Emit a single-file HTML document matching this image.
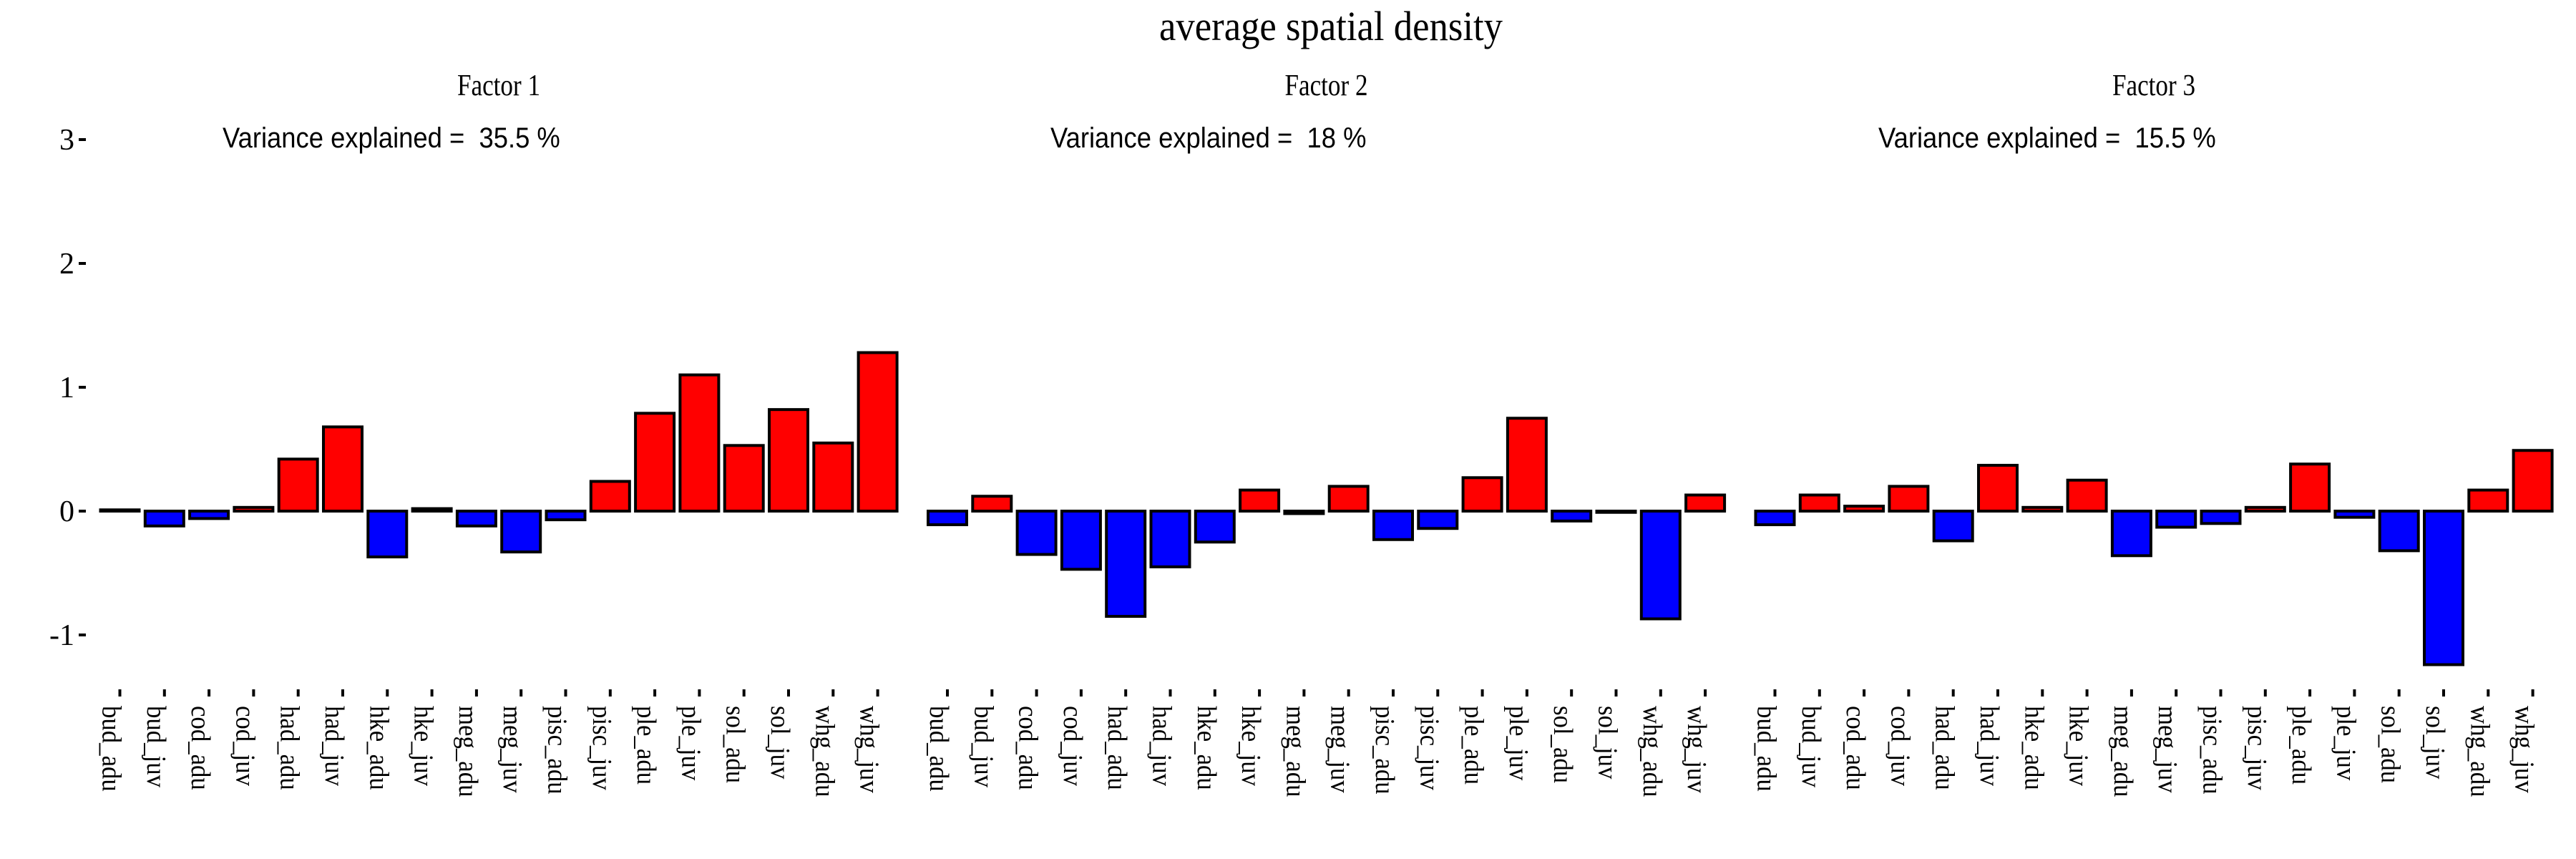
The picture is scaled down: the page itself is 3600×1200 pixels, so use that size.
<!DOCTYPE html>
<html><head><meta charset="utf-8"><style>
html,body{margin:0;padding:0;background:#fff;}
svg{display:block;}
text{white-space:pre;}
</style></head><body>
<svg id="chart" width="3600" height="1200" viewBox="0 0 3600 1200" xmlns="http://www.w3.org/2000/svg">
<text x="1860" y="56" font-family="Liberation Serif, serif" font-size="58" text-anchor="middle" textLength="480" lengthAdjust="spacingAndGlyphs">average spatial density</text>
<g id="panels"></g>
</svg>
<script>
const categories = ["bud_adu","bud_juv","cod_adu","cod_juv","had_adu","had_juv","hke_adu","hke_juv","meg_adu","meg_juv","pisc_adu","pisc_juv","ple_adu","ple_juv","sol_adu","sol_juv","whg_adu","whg_juv"];
const factor1 = [0.01,-0.12,-0.06,0.03,0.42,0.68,-0.37,0.02,-0.12,-0.33,-0.07,0.24,0.79,1.10,0.53,0.82,0.55,1.28];
const factor2 = [-0.11,0.12,-0.35,-0.47,-0.85,-0.45,-0.25,0.17,-0.02,0.20,-0.23,-0.14,0.27,0.75,-0.08,-0.01,-0.87,0.13];
const factor3 = [-0.11,0.13,0.04,0.20,-0.24,0.37,0.03,0.25,-0.36,-0.13,-0.10,0.03,0.38,-0.05,-0.32,-1.24,0.17,0.49];
const panelTitles = ["Factor 1","Factor 2","Factor 3"];
const varianceLabels = ["Variance explained =  35.5 %","Variance explained =  18 %","Variance explained =  15.5 %"];
const yTicks = [-1,0,1,2,3];

const NS = "http://www.w3.org/2000/svg";
const root = document.getElementById('panels');
const zeroY = 714, unit = 173;
function yScale(v){ return zeroY - v*unit; }
const panelOffset = 1156.5, firstTick = 167.5, step = 62.3, barW = 54;
function xScale(p,i){ return firstTick + p*panelOffset + i*step; }
function mk(tag, attrs, parent){ const e=document.createElementNS(NS,tag); for(const k in attrs) e.setAttribute(k,attrs[k]); parent.appendChild(e); return e; }

const yAxis = mk('g',{},root);


yTicks.forEach(t=>{
  const y=yScale(t);
  const tk=mk('rect',{x:110,y:y-2,width:10,height:4,fill:'#000'},yAxis);
  
  
  const lb=mk('text',{x:104,y:y+14,'font-family':'Liberation Serif, serif','font-size':42,'text-anchor':'end'},yAxis);
  
  
  lb.textContent=String(t);
});

const series=[factor1,factor2,factor3];
series.forEach((vals,p)=>{
  const g=mk('g',{},root);
  
  
  const cx = 697 + p*1156.5;
  const ft=mk('text',{x:cx,y:133,'font-family':'Liberation Serif, serif','font-size':42,'text-anchor':'middle',textLength:116,lengthAdjust:'spacingAndGlyphs'},g);
  
  
  ft.textContent=panelTitles[p];
  const vl=mk('text',{x:311+p*1157,y:206,'font-family':'Liberation Sans, sans-serif','font-size':40},g);
  
  
  vl.textContent=varianceLabels[p];
  const nat=vl.getComputedTextLength();
  vl.setAttribute('textLength', (nat*0.91).toFixed(1));
  vl.setAttribute('lengthAdjust','spacingAndGlyphs');
  vals.forEach((v,i)=>{
    const x=xScale(p,i);
    const y0=yScale(Math.max(v,0)), y1=yScale(Math.min(v,0));
    const b=mk('rect',{x:x-barW/2,y:y0,width:barW,height:Math.max(y1-y0,0.5),fill:v>=0?'#ff0000':'#0000ff',stroke:'#000','stroke-width':4},g);
    
    
    const tk=mk('rect',{x:x-2,y:963,width:4,height:10,fill:'#000'},g);
    
    
    const lb=mk('text',{x:0,y:0,'font-family':'Liberation Serif, serif','font-size':38,transform:'translate('+(x-24)+',986) rotate(90)'},g);
    
    
    lb.textContent=categories[i];
    const n=lb.getComputedTextLength();
    lb.setAttribute('textLength',(n*0.915).toFixed(1));
    lb.setAttribute('lengthAdjust','spacingAndGlyphs');
  });
});
</script>
</body></html>
